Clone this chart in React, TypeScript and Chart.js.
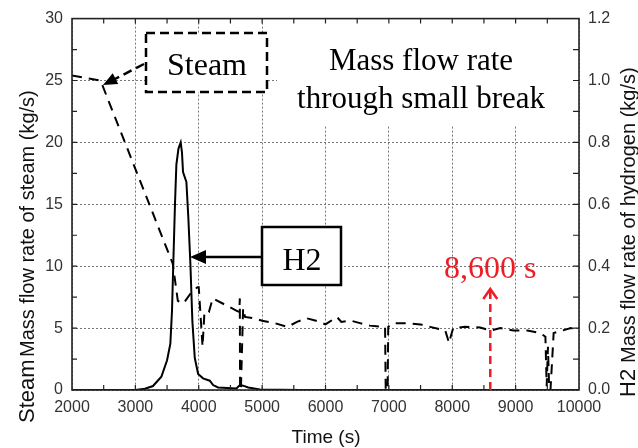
import React, { useEffect, useRef } from "react";
import { Chart, registerables } from "chart.js";

Chart.register(...registerables);

// ---- Data ----
const steamTime = [2000, 2450, 3590, 3670, 3760, 3885, 3980, 4000, 4060, 4090, 4160, 4220, 4600, 4640, 4648, 4652, 4665, 4700, 4730, 4860, 5000, 5200, 5400, 5550, 5700, 5850, 6000, 6060, 6180, 6250, 6400, 6545, 6700, 6900, 6940, 6950, 6980, 6990, 7070, 7290, 7500, 7650, 7890, 7950, 7975, 8015, 8200, 8440, 8600, 8760, 8965, 9185, 9285, 9390, 9470, 9490, 9510, 9530, 9550, 9600, 9870, 10000];
const steamFlow = [25.4, 25.0, 10.2, 7.2, 7.0, 7.9, 8.3, 8.3, 3.5, 6.3, 6.3, 7.4, 6.4, 6.3, 7.4, 0.0, 0.0, 6.6, 5.9, 5.8, 5.6, 5.4, 5.1, 5.5, 5.8, 5.6, 5.3, 5.5, 5.9, 5.5, 5.6, 5.4, 5.2, 5.1, 5.1, 0.0, 0.0, 5.1, 5.4, 5.4, 5.3, 5.1, 4.8, 3.8, 4.3, 5.0, 5.1, 5.05, 4.8, 5.0, 4.8, 4.8, 4.7, 4.6, 4.3, 0.3, 3.5, 0.0, 0.0, 4.6, 5.0, 4.9];

const h2Time = [2000, 3000, 3150, 3278, 3410, 3500, 3552, 3578, 3600, 3625, 3647, 3680, 3715, 3735, 3752, 3805, 3835, 3868, 3900, 3937, 3990, 4068, 4174, 4226, 4305, 4595, 4648, 4700, 4780, 4965, 5300, 5600, 10000];
const h2Flow = [0, 0, 0.004, 0.0128, 0.0428, 0.096, 0.15, 0.256, 0.42, 0.6, 0.728, 0.78, 0.8, 0.768, 0.704, 0.672, 0.56, 0.408, 0.22, 0.104, 0.052, 0.0376, 0.03, 0.016, 0.0084, 0.0052, 0.016, 0.014, 0.008, 0.002, 0.0008, 0, 0];

const xTicks = [2000, 3000, 4000, 5000, 6000, 7000, 8000, 9000, 10000];
const steamTicks = [0, 5, 10, 15, 20, 25, 30];
const h2Ticks = [0, 0.2, 0.4, 0.6, 0.8, 1.0, 1.2];
const markerTime = 8600;

const SANS = "'Liberation Sans', Arial, sans-serif";
const SERIF = "'Liberation Serif', 'Times New Roman', serif";

function arrowHead(ctx: CanvasRenderingContext2D, fx: number, fy: number, tx: number, ty: number, len: number, half: number) {
  const a = Math.atan2(ty - fy, tx - fx);
  const bx = tx - len * Math.cos(a);
  const by = ty - len * Math.sin(a);
  ctx.beginPath();
  ctx.moveTo(tx, ty);
  ctx.lineTo(bx + half * Math.sin(a), by - half * Math.cos(a));
  ctx.lineTo(bx - half * Math.sin(a), by + half * Math.cos(a));
  ctx.closePath();
  ctx.fill();
}

const decor = {
  id: "decor",
  beforeDatasetsDraw(chart: any) {
    const ctx = chart.ctx as CanvasRenderingContext2D;
    ctx.save();
    ctx.fillStyle = "#fff";
    ctx.fillRect(277, 19, 300, 106);
    ctx.restore();
  },
  afterDraw(chart: any) {
    const ctx = chart.ctx as CanvasRenderingContext2D;
    const { left, right, top, bottom } = chart.chartArea;
    const xs = chart.scales.x;
    const ys = chart.scales.y;
    const y2 = chart.scales.y2;
    ctx.save();
    // inward ticks
    ctx.strokeStyle = "#222";
    ctx.lineWidth = 1.2;
    ctx.beginPath();
    for (let t = 2500; t < 10000; t += 500) {
      const px = xs.getPixelForValue(t);
      ctx.moveTo(px, bottom);
      ctx.lineTo(px, bottom - 5);
      ctx.moveTo(px, top);
      ctx.lineTo(px, top + 5);
    }
    for (let v = 2.5; v < 30; v += 2.5) {
      const py = ys.getPixelForValue(v);
      ctx.moveTo(left, py);
      ctx.lineTo(left + 5, py);
    }
    for (let v = 0.1; v < 1.19; v += 0.1) {
      const py = y2.getPixelForValue(v);
      ctx.moveTo(right, py);
      ctx.lineTo(right - 6, py);
    }
    ctx.stroke();
    // frame
    ctx.lineWidth = 1.6;
    ctx.strokeRect(left, top, right - left, bottom - top);

    // Steam box
    ctx.fillStyle = "#fff";
    ctx.fillRect(146, 33, 121, 59);
    ctx.strokeStyle = "#000";
    ctx.lineWidth = 2.5;
    ctx.setLineDash([9, 5]);
    ctx.strokeRect(146, 33, 121, 59);
    // steam dashed arrow
    ctx.beginPath();
    ctx.moveTo(144, 64);
    ctx.lineTo(113, 80);
    ctx.stroke();
    ctx.setLineDash([]);
    ctx.fillStyle = "#000";
    arrowHead(ctx, 144, 64, 103, 85, 14, 6);
    ctx.font = `32px ${SERIF}`;
    ctx.textAlign = "center";
    ctx.textBaseline = "alphabetic";
    ctx.fillText("Steam", 207, 75);

    // title
    ctx.font = `31px ${SERIF}`;
    ctx.fillText("Mass flow rate", 421, 70);
    ctx.fillText("through small break", 421, 108);

    // H2 box
    ctx.fillStyle = "#fff";
    ctx.fillRect(262, 227, 79, 58);
    ctx.strokeStyle = "#000";
    ctx.lineWidth = 2.5;
    ctx.strokeRect(262, 227, 79, 58);
    ctx.fillStyle = "#000";
    ctx.font = `32px ${SERIF}`;
    ctx.fillText("H2", 302, 270);
    ctx.beginPath();
    ctx.moveTo(262, 257);
    ctx.lineTo(204, 257);
    ctx.stroke();
    arrowHead(ctx, 262, 257, 190, 257, 16, 7);

    // red marker
    const mx = xs.getPixelForValue(markerTime);
    ctx.strokeStyle = "#ee1c25";
    ctx.fillStyle = "#ee1c25";
    ctx.lineWidth = 2.5;
    ctx.setLineDash([8, 5]);
    ctx.beginPath();
    ctx.moveTo(mx, bottom);
    ctx.lineTo(mx, 291);
    ctx.stroke();
    ctx.setLineDash([]);
    ctx.beginPath();
    ctx.moveTo(mx - 7, 299);
    ctx.lineTo(mx, 289);
    ctx.lineTo(mx + 7, 299);
    ctx.stroke();
    ctx.font = `32px ${SERIF}`;
    ctx.fillText("8,600 s", mx, 278);

    // axis titles
    ctx.fillStyle = "#111";
    ctx.textAlign = "left";
    ctx.save();
    ctx.translate(34, 423);
    ctx.rotate(-Math.PI / 2);
    ctx.font = `22px ${SANS}`;
    ctx.fillText("Steam", 0, 0);
    ctx.restore();
    ctx.save();
    ctx.translate(34, 357);
    ctx.rotate(-Math.PI / 2);
    ctx.font = `20px ${SANS}`;
    ctx.fillText("Mass flow rate of steam (kg/s)", 0, 0);
    ctx.restore();
    ctx.save();
    ctx.translate(635, 397);
    ctx.rotate(-Math.PI / 2);
    ctx.font = `22px ${SANS}`;
    ctx.fillText("H2", 0, 0);
    ctx.restore();
    ctx.save();
    ctx.translate(635, 363);
    ctx.rotate(-Math.PI / 2);
    ctx.font = `20px ${SANS}`;
    ctx.fillText("Mass flow rate of hydrogen (kg/s)", 0, 0);
    ctx.restore();
    ctx.textAlign = "center";
    ctx.font = `19px ${SANS}`;
    ctx.fillText("Time (s)", 326, 443);
    ctx.restore();
  },
};

export default function App() {
  const ref = useRef<HTMLCanvasElement | null>(null);
  useEffect(() => {
    if (!ref.current) return;
    const steamData = steamTime.map((t, i) => ({ x: t, y: steamFlow[i] }));
    const h2Data = h2Time.map((t, i) => ({ x: t, y: h2Flow[i] }));
    const tickFont = { family: SANS, size: 16 };
    const chart = new Chart(ref.current, {
      type: "line",
      data: {
        datasets: [
          {
            label: "Steam",
            data: steamData,
            yAxisID: "y",
            borderColor: "#000",
            borderWidth: 2,
            borderDash: [10, 7],
            pointRadius: 0,
            fill: false,
            tension: 0,
          },
          {
            label: "H2",
            data: h2Data,
            yAxisID: "y2",
            borderColor: "#000",
            borderWidth: 2,
            pointRadius: 0,
            fill: false,
            tension: 0,
          },
        ],
      },
      options: {
        responsive: false,
        animation: false,
        layout: { padding: { top: 17, left: 0, right: 0, bottom: 0 } },
        plugins: { legend: { display: false }, tooltip: { enabled: false } },
        scales: {
          x: {
            type: "linear",
            min: 2000,
            max: 10000,
            afterBuildTicks: (s: any) => { s.ticks = xTicks.map((v) => ({ value: v })); },
            afterFit: (s: any) => { s.height = 58; },
            ticks: { font: tickFont, color: "#333", padding: 8, maxRotation: 0, autoSkip: false, callback: (v: any) => String(v) },
            grid: { color: "#777", lineWidth: 1, drawTicks: false },
            border: { display: false, dash: [2, 2] },
          },
          y: {
            type: "linear",
            position: "left",
            min: 0,
            max: 30,
            afterBuildTicks: (s: any) => { s.ticks = steamTicks.map((v) => ({ value: v })); },
            afterFit: (s: any) => { s.width = 72; },
            ticks: { font: tickFont, color: "#333", padding: 9 },
            grid: { color: "#777", lineWidth: 1, drawTicks: false },
            border: { display: false, dash: [2, 2] },
          },
          y2: {
            type: "linear",
            position: "right",
            min: 0,
            max: 1.2,
            afterBuildTicks: (s: any) => { s.ticks = h2Ticks.map((v) => ({ value: v })); },
            afterFit: (s: any) => { s.width = 59; },
            ticks: { font: tickFont, color: "#333", padding: 9, callback: (v: any) => Number(v).toFixed(1) },
            grid: { display: false, drawTicks: false },
            border: { display: false },
          },
        },
      },
      plugins: [decor],
    });
    return () => chart.destroy();
  }, []);
  return (
    <div style={{ position: "absolute", left: 0, top: 0, width: 638, height: 448, background: "#fff" }}>
      <canvas ref={ref} width={638} height={448} style={{ display: "block" }} />
    </div>
  );
}
